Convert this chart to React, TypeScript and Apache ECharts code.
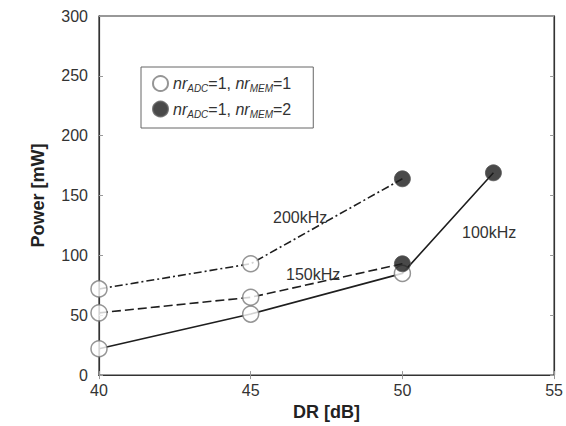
import React, { useEffect, useRef } from "react";
import * as echarts from "echarts";

// DR [dB] values and Power [mW] values per clock frequency
const dr100 = [40, 45, 50, 53];
const power100 = [22, 51, 85, 169];
const filled100 = [false, false, false, true];

const dr150 = [40, 45, 50];
const power150 = [52, 65, 93];
const filled150 = [false, false, true];

const dr200 = [40, 45, 50];
const power200 = [72, 93, 164];
const filled200 = [false, false, true];

const xTicks = [40, 45, 50, 55];
const yTicks = [0, 50, 100, 150, 200, 250, 300];

const freqLabels = ["100kHz", "150kHz", "200kHz"];
const legendNames = ["nr1", "nr2"];

const FONT = "'Liberation Sans', Arial, Helvetica, sans-serif";

function pairs(xs: number[], ys: number[]) {
  return xs.map((x, i) => [x, ys[i]]);
}
function pick(xs: number[], ys: number[], fl: boolean[], want: boolean) {
  return xs.map((x, i) => [x, ys[i]]).filter((_, i) => fl[i] === want);
}

export default function App() {
  const ref = useRef<HTMLDivElement>(null);
  useEffect(() => {
    if (!ref.current) return;
    const chart = echarts.init(ref.current, undefined, { renderer: "svg" });
    const openPts = [
      ...pick(dr100, power100, filled100, false),
      ...pick(dr150, power150, filled150, false),
      ...pick(dr200, power200, filled200, false),
    ];
    const filledPts = [
      ...pick(dr100, power100, filled100, true),
      ...pick(dr150, power150, filled150, true),
      ...pick(dr200, power200, filled200, true),
    ];
    const lineColor = "#1e1e1e";
    const axisCommon = {
      axisLine: { show: true, lineStyle: { color: "#333", width: 1.2 } },
      axisTick: { show: true, inside: true, length: 4, lineStyle: { color: "#999" } },
      splitLine: { show: false },
    };
    chart.setOption({
      animation: false,
      backgroundColor: "#fff",
      grid: { left: 99, right: 3, top: 16, bottom: 48, show: true, borderColor: "#333", borderWidth: 1.2 },
      xAxis: [
        {
          type: "value",
          min: 40,
          max: 55,
          interval: 5,
          ...axisCommon,
          axisLabel: {
            color: "#333",
            fontSize: 16,
            fontFamily: FONT,
            margin: 7,
            formatter: (v: number) => (xTicks.includes(v) ? String(v) : ""),
          },
          name: "DR [dB]",
          nameLocation: "middle",
          nameGap: 21,
          nameTextStyle: { color: "#222", fontSize: 18, fontWeight: "bold", fontFamily: FONT },
        },
        {
          type: "value",
          position: "top",
          min: 40,
          max: 55,
          interval: 5,
          ...axisCommon,
          axisLabel: { show: false },
        },
      ],
      yAxis: [
        {
          type: "value",
          min: 0,
          max: 300,
          interval: 50,
          ...axisCommon,
          axisLabel: {
            color: "#333",
            fontSize: 16,
            fontFamily: FONT,
            margin: 11,
            formatter: (v: number) => (yTicks.includes(v) ? String(v) : ""),
          },
          name: "Power [mW]",
          nameLocation: "middle",
          nameGap: 52,
          nameTextStyle: { color: "#222", fontSize: 18, fontWeight: "bold", fontFamily: FONT },
        },
        {
          type: "value",
          position: "right",
          min: 0,
          max: 300,
          interval: 50,
          ...axisCommon,
          axisLabel: { show: false },
        },
      ],
      legend: {
        left: 141,
        top: 67,
        orient: "vertical",
        data: legendNames,
        itemWidth: 15,
        itemHeight: 15,
        itemGap: 7,
        padding: [8, 22, 9, 11],
        borderColor: "#666",
        borderWidth: 1,
        backgroundColor: "#fff",
        formatter: (name: string) =>
          name === "nr1"
            ? "{i|nr}{s|ADC}{t|=1, }{i|nr}{s|MEM}{t|=1}"
            : "{i|nr}{s|ADC}{t|=1, }{i|nr}{s|MEM}{t|=2}",
        textStyle: {
          color: "#333",
          fontFamily: FONT,
          fontSize: 16,
          rich: {
            i: { fontStyle: "italic", fontSize: 16, lineHeight: 20, fontFamily: FONT, color: "#333" },
            t: { fontSize: 16, lineHeight: 20, fontFamily: FONT, color: "#333" },
            s: { fontStyle: "italic", fontSize: 10, lineHeight: 9, verticalAlign: "bottom", fontFamily: FONT, color: "#333" },
          },
        },
      },
      series: [
        {
          name: freqLabels[0],
          type: "line",
          data: pairs(dr100, power100),
          symbol: "none",
          lineStyle: { color: lineColor, width: 1.6, type: "solid" },
          z: 2,
        },
        {
          name: freqLabels[1],
          type: "line",
          data: pairs(dr150, power150),
          symbol: "none",
          lineStyle: { color: lineColor, width: 1.6, type: [9, 4] },
          z: 2,
        },
        {
          name: freqLabels[2],
          type: "line",
          data: pairs(dr200, power200),
          symbol: "none",
          lineStyle: { color: lineColor, width: 1.6, type: [8, 3, 2, 3] },
          z: 2,
        },
        {
          name: "nr1",
          type: "scatter",
          data: openPts,
          symbol: "circle",
          symbolSize: 16,
          itemStyle: { color: "#fff", borderColor: "#7a7a7a", borderWidth: 1.5 },
          z: 3,
        },
        {
          name: "nr2",
          type: "scatter",
          data: filledPts,
          symbol: "circle",
          symbolSize: 16,
          itemStyle: { color: "#1c1c1c", borderColor: "#555", borderWidth: 1 },
          z: 4,
        },
      ],
      graphic: [
        { type: "text", left: 273, top: 209, style: { text: freqLabels[2], fontSize: 16, fontFamily: FONT, fill: "#333" }, z: 10 },
        { type: "text", left: 286, top: 266, style: { text: freqLabels[1], fontSize: 16, fontFamily: FONT, fill: "#333" }, z: 10 },
        { type: "text", left: 462, top: 224, style: { text: freqLabels[0], fontSize: 16, fontFamily: FONT, fill: "#333" }, z: 10 },
      ],
    });
    return () => chart.dispose();
  }, []);
  return (
    <div
      ref={ref}
      style={{ position: "fixed", left: 0, top: 0, width: 566, height: 426 }}
    />
  );
}
